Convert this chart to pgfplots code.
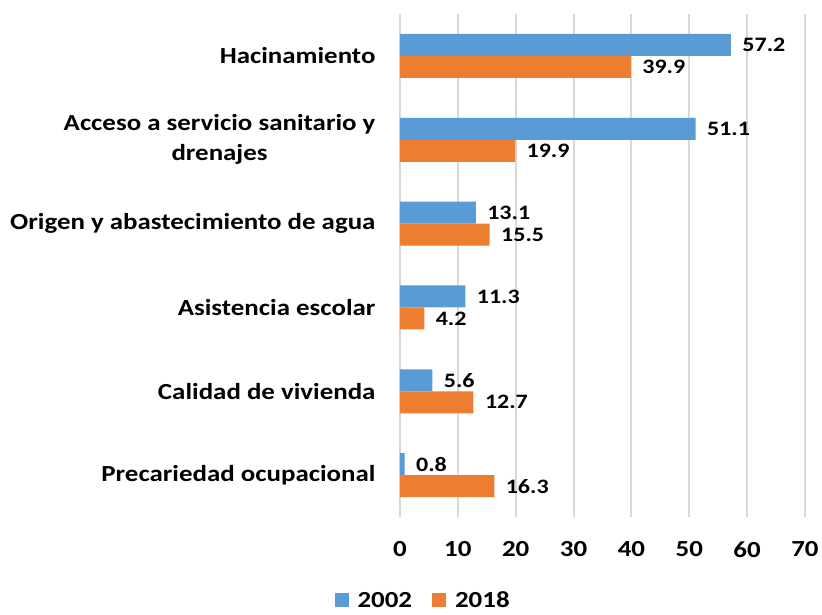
\documentclass[border=0pt]{standalone}
\usepackage{pgfplots}
\pgfplotsset{compat=1.18}
\usepackage{fontspec}
\setmainfont{Carlito}[FakeStretch=1.17]
\definecolor{cblue}{RGB}{91,155,213}
\definecolor{corange}{RGB}{237,125,49}
\definecolor{cgrid}{RGB}{217,217,217}
\begin{document}
\begin{tikzpicture}
\begin{axis}[
  name=ax,
  xbar,
  scale only axis,
  width=405pt, height=503pt,
  xmin=0, xmax=70, ymin=-0.5, ymax=5.5,
  xtick={0,10,...,70},
  ytick={0,...,5},
  yticklabels={Precariedad ocupacional, Calidad de vivienda, Asistencia escolar, Origen y abastecimiento de agua, {Acceso a servicio sanitario y\\drenajes}, Hacinamiento},
  yticklabel style={align=center, font=\fontsize{23}{30}\selectfont\bfseries, xshift=-21pt},
  xticklabel style={font=\fontsize{23}{27}\selectfont\bfseries, yshift=-21pt},
  /pgf/number format/assume math mode=true,
  xmajorgrids,
  grid style={draw=cgrid, line width=2pt},
  axis line style={draw=none},
  major tick length=0pt,
  bar width=22pt,
  nodes near coords,
  nodes near coords style={font=\fontsize{20.5}{25}\selectfont\bfseries, anchor=west, xshift=8pt, /pgf/number format/.cd, fixed, precision=1, assume math mode=true},
  legend style={at={(0.057,-0.166)}, anchor=center, draw=none, font=\fontsize{23}{27}\selectfont\bfseries, legend columns=2, /tikz/every even column/.append style={column sep=18pt}, /tikz/every odd column/.append style={column sep=7pt}},
  legend image code/.code={\fill[#1] (0pt,-6pt) rectangle (14pt,8pt);},
]
\addplot[fill=cblue, draw=none, bar shift=11pt] coordinates {(0.8,0) (5.6,1) (11.3,2) (13.1,3) (51.1,4) (57.2,5)};
\addplot[fill=corange, draw=none, bar shift=-11pt] coordinates {(16.3,0) (12.7,1) (4.2,2) (15.5,3) (19.9,4) (39.9,5)};
\legend{2002, 2018}
\end{axis}
\pgfresetboundingbox
\path[use as bounding box] ([shift={(-400pt,-97pt)}]ax.south west) rectangle ++(822pt,614pt);
\end{tikzpicture}
\end{document}
